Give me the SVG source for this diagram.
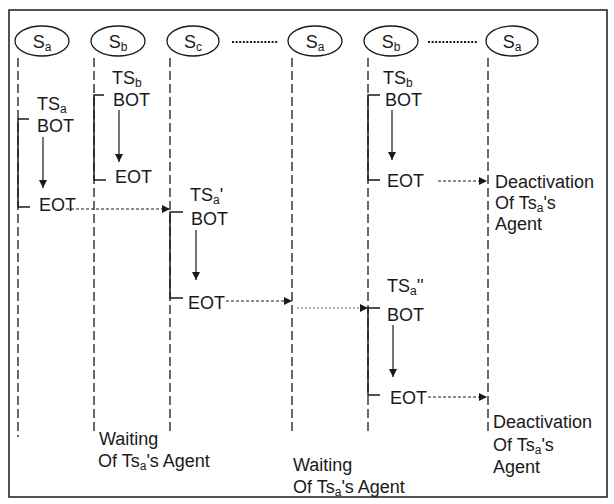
<svg xmlns="http://www.w3.org/2000/svg" width="614" height="504" viewBox="0 0 614 504">
<defs>
<style>
text{font-family:"Liberation Sans",Arial,sans-serif;font-size:18px;fill:#1a1a1a}
.sub{font-size:12px}
.ell{fill:#fff;stroke:#1a1a1a;stroke-width:1.3}
.life{stroke:#1a1a1a;stroke-width:1.3;stroke-dasharray:9,4;fill:none}
.br{stroke:#1a1a1a;stroke-width:1.5;fill:none}
.arr{stroke:#1a1a1a;stroke-width:1.2;fill:none;marker-end:url(#ah)}
.dot{stroke:#1a1a1a;stroke-width:1.2;stroke-dasharray:3,2;fill:none;marker-end:url(#ah)}
.dotg{stroke:#666;stroke-width:1;stroke-dasharray:2,2;fill:none;marker-end:url(#ah)}
.ddd{stroke:#1a1a1a;stroke-width:2;stroke-dasharray:2,1.6;fill:none}
</style>
<marker id="ah" viewBox="0 0 10 10" refX="10" refY="5" markerWidth="8" markerHeight="8" markerUnits="userSpaceOnUse" orient="auto">
<path d="M0,0 L10,5 L0,10 z" fill="#1a1a1a"/>
</marker>
</defs>
<rect x="9" y="10" width="598" height="487" fill="#fff" stroke="#1a1a1a" stroke-width="1.5"/>

<g id="connectors">
<line class="life" x1="18" y1="58" x2="18" y2="437"/>
<line class="life" x1="94" y1="58" x2="94" y2="433"/>
<line class="life" x1="170" y1="58" x2="170" y2="433"/>
<line class="life" x1="292" y1="58" x2="292" y2="433"/>
<line class="life" x1="368" y1="58" x2="368" y2="433"/>
<line class="life" x1="488" y1="58" x2="488" y2="433"/>
<line class="ddd" x1="232" y1="42" x2="278" y2="42"/>
<line class="ddd" x1="428" y1="42" x2="478" y2="42"/>
<path class="br" d="M29,119 H18 V207 H30"/>
<path class="br" d="M104,95 H94 V180 H106"/>
<path class="br" d="M183,212 H170 V298 H183"/>
<path class="br" d="M380,95 H368 V180 H380"/>
<path class="br" d="M380,308 H368 V395 H380"/>
<line class="arr" x1="43" y1="137" x2="43" y2="188"/>
<line class="arr" x1="119" y1="110" x2="119" y2="162"/>
<line class="arr" x1="196" y1="230" x2="196" y2="280"/>
<line class="arr" x1="392" y1="110" x2="392" y2="160"/>
<line class="arr" x1="393" y1="325" x2="393" y2="377"/>
<line class="dot" x1="66" y1="209" x2="170" y2="209"/>
<line class="dot" x1="226" y1="301" x2="292" y2="301"/>
<line class="dotg" x1="297" y1="308" x2="368" y2="308"/>
<line class="dot" x1="438" y1="181" x2="487" y2="181"/>
<line class="dot" x1="428" y1="397" x2="487" y2="397"/>
</g>

<g id="node-sa1"><ellipse class="ell" cx="42" cy="41" rx="27" ry="15"/><text x="42" y="48" text-anchor="middle">S<tspan class="sub" dy="3">a</tspan></text></g>
<g id="node-sb1"><ellipse class="ell" cx="118" cy="41" rx="27" ry="15"/><text x="118" y="48" text-anchor="middle">S<tspan class="sub" dy="3">b</tspan></text></g>
<g id="node-sc1"><ellipse class="ell" cx="193" cy="41" rx="26" ry="15"/><text x="193" y="48" text-anchor="middle">S<tspan class="sub" dy="3">c</tspan></text></g>
<g id="node-sa2"><ellipse class="ell" cx="315" cy="41" rx="27" ry="15"/><text x="315" y="48" text-anchor="middle">S<tspan class="sub" dy="3">a</tspan></text></g>
<g id="node-sb2"><ellipse class="ell" cx="391" cy="41" rx="27" ry="15"/><text x="391" y="48" text-anchor="middle">S<tspan class="sub" dy="3">b</tspan></text></g>
<g id="node-sa3"><ellipse class="ell" cx="512" cy="41" rx="26" ry="15"/><text x="512" y="48" text-anchor="middle">S<tspan class="sub" dy="3">a</tspan></text></g>

<g id="txn-tsa">
<text x="37" y="110">TS<tspan class="sub" dy="3">a</tspan></text>
<text x="37" y="132">BOT</text>
<text x="39" y="211">EOT</text>
</g>
<g id="txn-tsb1">
<text x="112" y="84">TS<tspan class="sub" dy="3">b</tspan></text>
<text x="113" y="106">BOT</text>
<text x="115" y="183">EOT</text>
</g>
<g id="txn-tsa-prime">
<text x="190" y="201">TS<tspan class="sub" dy="3">a</tspan><tspan dy="-3">'</tspan></text>
<text x="191" y="225">BOT</text>
<text x="188" y="309">EOT</text>
</g>
<g id="txn-tsb2">
<text x="383" y="84">TS<tspan class="sub" dy="3">b</tspan></text>
<text x="385" y="106">BOT</text>
<text x="387" y="187">EOT</text>
</g>
<g id="txn-tsa-dprime">
<text x="387" y="292">TS<tspan class="sub" dy="3">a</tspan><tspan dy="-3">''</tspan></text>
<text x="387" y="321">BOT</text>
<text x="390" y="404">EOT</text>
</g>
<g id="note-deact1">
<text x="495" y="188">Deactivation</text>
<text x="495" y="209">Of Ts<tspan class="sub" dy="3">a</tspan><tspan dy="-3">'s</tspan></text>
<text x="495" y="230">Agent</text>
</g>
<g id="note-deact2">
<text x="493" y="428">Deactivation</text>
<text x="493" y="451">Of Ts<tspan class="sub" dy="3">a</tspan><tspan dy="-3">'s</tspan></text>
<text x="493" y="473">Agent</text>
</g>
<g id="note-wait1">
<text x="99" y="445">Waiting</text>
<text x="98" y="467">Of Ts<tspan class="sub" dy="3">a</tspan><tspan dy="-3">'s Agent</tspan></text>
</g>
<g id="note-wait2">
<text x="293" y="471">Waiting</text>
<text x="293" y="493">Of Ts<tspan class="sub" dy="3">a</tspan><tspan dy="-3">'s Agent</tspan></text>
</g>
</svg>
